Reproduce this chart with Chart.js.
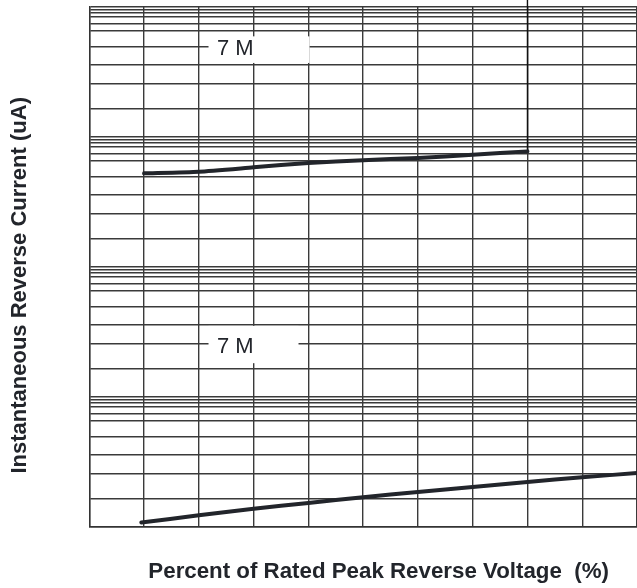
<!DOCTYPE html>
<html><head><meta charset="utf-8">
<script src="https://cdn.jsdelivr.net/npm/chart.js@4"></script>
<style>html,body{margin:0;padding:0;background:#fff}canvas{display:block}</style>
</head><body>
<canvas id="c" width="637" height="588"></canvas>
<script>
// ---- data ----
const xMin = 0, xMax = 100, xStep = 10;
const yMin = 0.01, yMax = 100;
const decades = [0.01, 0.1, 1, 10];
const mantissas = [1, 1.65, 2.56, 3.57, 4.98, 6.62, 7.43, 8.39, 9.06, 9.59];
const upperX = [10, 20, 30, 40, 50, 60, 70, 80];
const upperY = [5.25, 5.41, 5.84, 6.31, 6.63, 6.89, 7.31, 7.75];
const lowerX = [9.5, 20, 30, 40, 50, 60, 70, 80, 90, 100];
const lowerY = [0.0108, 0.0123, 0.0138, 0.0153, 0.0169, 0.0186, 0.0203, 0.0222, 0.0241, 0.0260];
const markerX = [80, 80];
const markerY = [7.75, 1000];
const labelText = ['7 M', '7 M'];
const labelX = [23.3, 23.3];
const labelY = [49.8, 0.256];
const xTitle = '     Percent of Rated Peak Reverse Voltage  (%)';
const yTitle = 'Instantaneous Reverse Current (uA)      ';

const toPts = (xs, ys) => xs.map((x, i) => ({x, y: ys[i]}));
const FONT = "'Liberation Sans', Arial, Helvetica, sans-serif";
const INK = '#22252b';
const GRID = '#3a3a3a';

const labelBoxes = [
  {l: -8.4, r: 92.6, t: -10, b: 16.6},
  {l: -8.4, r: 81.6, t: -18, b: 19.3}
];

const labelPlugin = {
  id: 'curveLabels',
  afterDatasetsDraw(chart) {
    const {ctx, scales: {x, y}} = chart;
    ctx.save();
    ctx.font = "22px " + FONT;
    ctx.textBaseline = 'middle';
    ctx.textAlign = 'left';
    labelText.forEach((t, i) => {
      const px = x.getPixelForValue(labelX[i]);
      const py = y.getPixelForValue(labelY[i]);
      const b = labelBoxes[i];
      ctx.fillStyle = '#fff';
      ctx.fillRect(px + b.l, py + b.t, b.r - b.l, b.b - b.t);
      ctx.fillStyle = INK;
      ctx.fillText(t, px, py + 3);
    });
    ctx.restore();
  }
};

new Chart(document.getElementById('c'), {
  type: 'scatter',
  data: {
    datasets: [
      {data: toPts(upperX, upperY), showLine: true, borderColor: INK, borderWidth: 4, pointRadius: 0, tension: 0.2, borderCapStyle: 'round'},
      {data: toPts(lowerX, lowerY), showLine: true, borderColor: INK, borderWidth: 4, pointRadius: 0, tension: 0.2, borderCapStyle: 'round'},
      {data: toPts(markerX, markerY), showLine: true, borderColor: '#111', borderWidth: 1.4, pointRadius: 0, clip: false}
    ]
  },
  options: {
    responsive: false,
    animation: false,
    devicePixelRatio: 1,
    layout: {padding: {left: 0, top: 7, right: 0, bottom: 0}},
    plugins: {legend: {display: false}, tooltip: {enabled: false}},
    scales: {
      x: {
        type: 'linear', min: xMin, max: xMax,
        ticks: {display: false, stepSize: xStep},
        grid: {color: GRID, lineWidth: 1.4, drawTicks: false},
        border: {display: true, color: '#333', width: 1.4},
        title: {display: true, text: xTitle, color: INK, font: {family: FONT, size: 22.3, weight: 'bold'}, padding: {top: 31.5, bottom: 2.8}}
      },
      y: {
        type: 'logarithmic', min: yMin, max: yMax,
        afterBuildTicks(scale) {
          const t = [];
          decades.forEach(d => mantissas.forEach(m => t.push({value: d * m})));
          t.push({value: yMax});
          scale.ticks = t;
        },
        ticks: {display: false},
        grid: {color: GRID, lineWidth: 1.4, drawTicks: false},
        border: {display: true, color: '#333', width: 1.4},
        title: {display: true, text: yTitle, color: INK, font: {family: FONT, size: 22, weight: 'bold'}, padding: {top: 6.8, bottom: 56.1}}
      }
    }
  },
  plugins: [labelPlugin]
});
</script>
</body></html>
